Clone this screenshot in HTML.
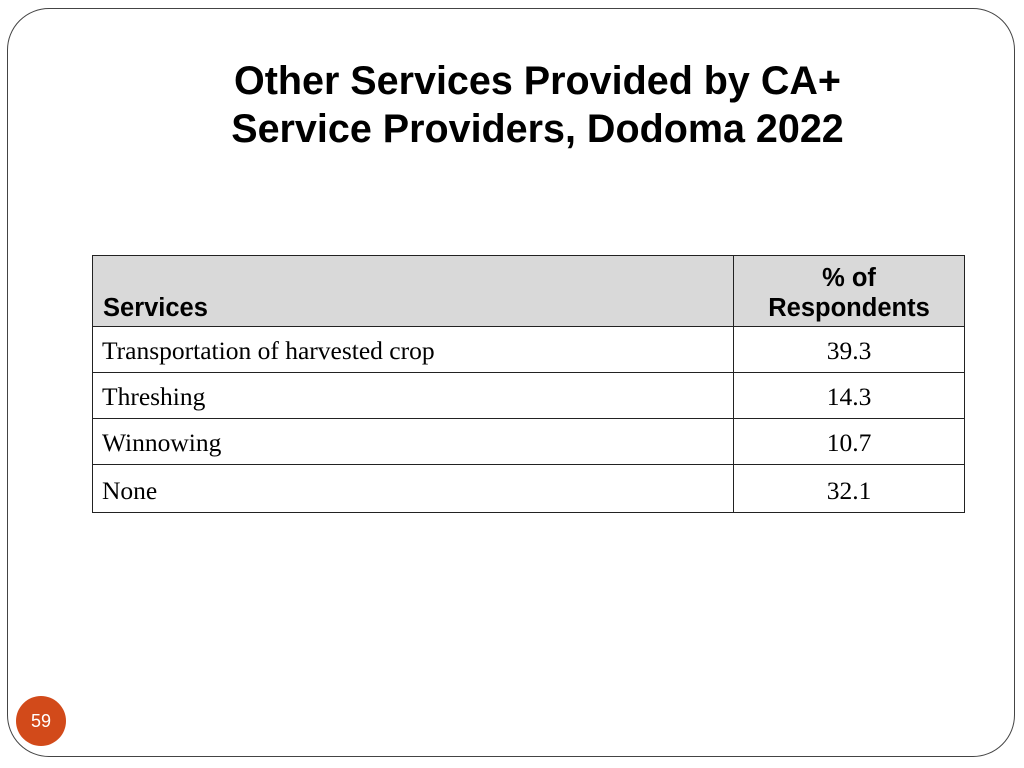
<!DOCTYPE html>
<html><head><style>
body{margin:0;width:1024px;height:768px;background:#fff;position:relative;overflow:hidden;font-family:"Liberation Sans",sans-serif}
.frame{position:absolute;left:7px;top:8px;width:1008px;height:749px;border:1.5px solid #444;border-radius:42px;box-sizing:border-box}
.title{position:absolute;left:80px;width:915px;top:57px;text-align:center;font-weight:bold;font-size:39.5px;line-height:48px;color:#000}
.c{position:absolute;left:16px;top:696px;width:50px;height:50px;border-radius:50%;background:#d24a1a;color:#fff;font-size:18px;line-height:50px;text-align:center}
.t{position:absolute;box-sizing:border-box;border:1.5px solid #222}
.h{background:#d9d9d9;font-weight:bold;font-size:25.5px}
.r{font-family:"Liberation Serif",serif;font-size:25.5px;background:#fff;line-height:28px}
</style></head><body>
<div class="frame"></div>
<div class="title">Other Services Provided by CA+<br>Service Providers, Dodoma 2022</div>
<div class="t h" style="left:92px;top:255px;width:643px;height:73px"><div style="position:absolute;left:10px;top:38px">Services</div></div>
<div class="t h" style="left:733px;top:255px;width:232px;height:73px;text-align:center;line-height:30px;padding-top:7px">% of<br>Respondents</div>
<div class="t r" style="left:92px;top:326px;width:643px;height:48px;padding:10px 0 0 9px">Transportation of harvested crop</div>
<div class="t r" style="left:733px;top:326px;width:232px;height:48px;padding-top:10px;text-align:center">39.3</div>
<div class="t r" style="left:92px;top:372px;width:643px;height:48px;padding:10px 0 0 9px">Threshing</div>
<div class="t r" style="left:733px;top:372px;width:232px;height:48px;padding-top:10px;text-align:center">14.3</div>
<div class="t r" style="left:92px;top:418px;width:643px;height:48px;padding:10px 0 0 9px">Winnowing</div>
<div class="t r" style="left:733px;top:418px;width:232px;height:48px;padding-top:10px;text-align:center">10.7</div>
<div class="t r" style="left:92px;top:464px;width:643px;height:49px;padding:12px 0 0 9px">None</div>
<div class="t r" style="left:733px;top:464px;width:232px;height:49px;padding-top:12px;text-align:center">32.1</div>
<div class="c">59</div>
</body></html>
